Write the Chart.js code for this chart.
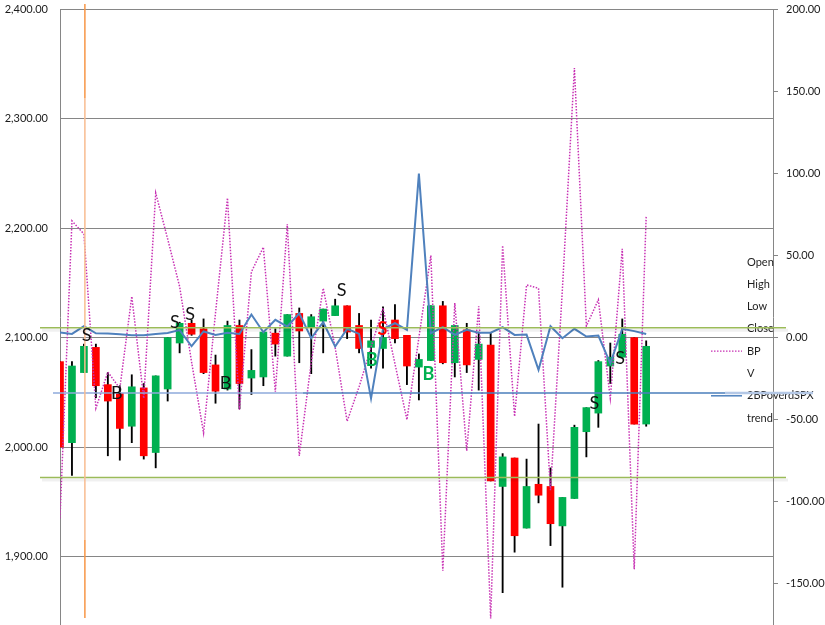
<!DOCTYPE html>
<html><head><meta charset="utf-8">
<script src="https://cdn.jsdelivr.net/npm/chart.js@4.4.0/dist/chart.umd.min.js"></script>
<style>html,body{margin:0;padding:0;background:#fff;}#wrap{width:825px;height:625px;position:relative;}</style>
</head><body><div id="wrap"><canvas id="c" width="825" height="625"></canvas></div>
<script>
// ---- data ----
const days   = [1,2,3,4,5,6,7,8,9,10,11,12,13,14,15,16,17,18,19,20,21,22,23,24,25,26,27,28,29,30,31,32,33,34,35,36,37,38,39,40,41,42,43,44,45,46,47,48,49,50];
const opens  = [2078,2004,2068,2091,2057,2049,2019,2054,1995,2053,2095,2113,2108,2075,2053,2111,2063,2064,2104,2083,2122,2109,2115,2120,2129,2111,2091,2090,2116,2102,2073,2079,2129,2077,2107,2080,2093,1964,1990,1926,1966,1964,1928,1953,2014,2031,2074,2082,2100,2021];
const highs  = [2078,2078,2094,2094,2068,2056,2066,2058,2065,2100,2114,2116,2117,2084,2115,2116,2089,2105,2108,2121,2127,2121,2126,2135,2129,2122,2116,2128,2130,2102,2085,2129,2133,2111,2113,2105,2104,1994,1990,1989,2021,1981,1954,2020,2036,2079,2095,2117,2100,2097];
const lows   = [2000,1974,2068,2045,1992,1988,2004,1989,1981,2042,2086,2102,2067,2040,2052,2035,2048,2056,2083,2083,2077,2067,2086,2120,2099,2086,2072,2072,2095,2057,2043,2079,2076,2064,2068,2052,1969,1867,1904,1926,1949,1910,1872,1953,1991,2018,2058,2082,2021,2019];
const closes = [2000,2074,2092,2056,2042,2017,2055,1992,2065,2100,2113,2103,2068,2051,2111,2058,2070,2105,2094,2121,2106,2119,2126,2129,2105,2090,2097,2100,2099,2074,2080,2129,2077,2111,2075,2094,1969,1991,1919,1964,1956,1930,1954,2018,2036,2078,2082,2103,2021,2092];
const bp     = [-110,71,63,-43,-21,-31,25,-37,88,60,31,-15,-58,15,85,-44,40,55,-33,69,-72,-15,30,-6,-51,-30,-6,18,-16,-50,0,50,-142,21,-69,19,-171,56,-48,32,30,-93,30,164,7,23,-37,54,-141,74];
const spxRatio = [3,2.2,6.9,2.6,2.4,2,1.4,1.4,2.2,2.8,4.5,-5.3,3.7,1.6,2.9,2.2,14,3.2,10.8,6.7,14.8,-0.4,9.3,-5.5,5.3,2.2,-37,5.3,8.7,4.7,99.8,2.6,6.3,1.6,4.7,2.9,2.9,6.3,1.6,1.8,-19.7,6.9,-0.4,5.3,0.6,1.2,-15.7,5.3,3.9,2.2];
const leftTicksStep = 100, rightTicksStep = 50;
const legendNames = ['Open','High','Low','Close','BP','V','2BPoverdSPX','trend'];
// drawn trend / level lines (left-axis prices) and marker day
const greenLevels = [2109, 1972.3];
const blueLevel = 2049.3;
const markerDay = 3.08;
// signal annotations
const signalDays   = [3.23, 5.74, 10.6, 11.87, 14.85, 24.55, 27.06, 27.95, 31.8, 45.67, 47.82];
const signalPrices = [2102.1, 2049.0, 2113.7, 2121.3, 2058.5, 2143.2, 2079.2, 2107.3, 2066.4, 2040.5, 2080.8];
const signalText   = ['S','B','S','S','B','S','B','S','B','S','S'];
const signalKind   = ['k','k','k','k','k','k','g','r','g','k','k'];

const FONT = 'Lato';
const fmtLeft = v => Number(v).toLocaleString('en-US',{minimumFractionDigits:2,maximumFractionDigits:2});
const fmtRight = v => Number(v).toFixed(2);

const bodyColors = opens.map((o,i)=> closes[i] >= o ? '#00B050' : '#FF0000');

const overlay = {
  id:'overlay',
  afterDatasetsDraw(chart){
    const {ctx, chartArea:a, scales} = chart;
    const xs = scales.x, ys = scales.y;
    ctx.save();
    // legend
    ctx.font = '11px ' + FONT;
    ctx.fillStyle = '#1f1f1f';
    ctx.textBaseline = 'middle';
    ctx.textAlign = 'left';
    const lx = a.right - 26, ly0 = a.top + 253, step = 22.3;
    legendNames.forEach((n,i)=>{
      const yy = ly0 + i*step;
      ctx.fillText(n, lx, yy);
      if (n === 'BP') {
        ctx.save(); ctx.strokeStyle='#C832B4'; ctx.lineWidth=1.3; ctx.setLineDash([1.5,1.5]);
        ctx.beginPath(); ctx.moveTo(a.right-62, yy); ctx.lineTo(a.right-31, yy); ctx.stroke(); ctx.restore();
      }
      if (n === '2BPoverdSPX') {
        ctx.save(); ctx.strokeStyle='#4F81BD'; ctx.lineWidth=1.5;
        ctx.beginPath(); ctx.moveTo(a.right-62, yy); ctx.lineTo(a.right-31, yy); ctx.stroke(); ctx.restore();
      }
    });
    // green level lines with shadow
    greenLevels.forEach(p=>{
      const y = ys.getPixelForValue(p);
      ctx.strokeStyle='rgba(0,0,0,0.06)'; ctx.lineWidth=3;
      ctx.beginPath(); ctx.moveTo(a.left-18, y+2.5); ctx.lineTo(a.right+15, y+2.5); ctx.stroke();
      ctx.strokeStyle='#9BBB59'; ctx.lineWidth=1.5;
      ctx.beginPath(); ctx.moveTo(a.left-20, y); ctx.lineTo(a.right+13, y); ctx.stroke();
    });
    // blue level line
    {
      const y = ys.getPixelForValue(blueLevel);
      ctx.lineWidth=1.5;
      ctx.strokeStyle='#8EAADB';
      ctx.beginPath(); ctx.moveTo(a.left-7, y); ctx.lineTo(xs.getPixelForValue(21.3), y); ctx.stroke();
      ctx.strokeStyle='#4A7EBB';
      ctx.beginPath(); ctx.moveTo(xs.getPixelForValue(21.3), y); ctx.lineTo(a.right-48, y); ctx.stroke();
      ctx.strokeStyle='#B4C8E6'; ctx.lineWidth=2.5;
      ctx.beginPath(); ctx.moveTo(a.right-48, y); ctx.lineTo(a.right+40, y); ctx.stroke();
    }
    // orange vertical marker
    {
      const x = xs.getPixelForValue(markerDay);
      ctx.lineWidth=1.5;
      ctx.strokeStyle='#F79646';
      ctx.beginPath(); ctx.moveTo(x, a.top-5); ctx.lineTo(x, a.top+89); ctx.stroke();
      ctx.strokeStyle='#F8BC90';
      ctx.beginPath(); ctx.moveTo(x, a.top+89); ctx.lineTo(x, a.top+531); ctx.stroke();
      ctx.strokeStyle='#F79646';
      ctx.beginPath(); ctx.moveTo(x, a.top+531); ctx.lineTo(x, a.bottom-7); ctx.stroke();
    }
    // signal letters
    ctx.textAlign='center'; ctx.textBaseline='middle';
    signalDays.forEach((d,i)=>{
      const x = xs.getPixelForValue(d), y = ys.getPixelForValue(signalPrices[i]);
      const k = signalKind[i];
      if (k === 'k') { ctx.font = '18px ' + FONT; ctx.fillStyle = '#111'; }
      else { ctx.font = 'bold 18px ' + FONT; ctx.fillStyle = k === 'r' ? '#FF0000' : '#00B050'; }
      ctx.fillText(signalText[i], x, y);
    });
    ctx.restore();
  }
};

new Chart(document.getElementById('c'), {
  type:'bar',
  data:{
    labels: days,
    datasets:[
      {type:'line', label:'2BPoverdSPX', data: spxRatio, yAxisID:'y1', borderColor:'#4F81BD', borderWidth:2, pointRadius:0, tension:0, order:0},
      {type:'line', label:'BP', data: bp, yAxisID:'y1', borderColor:'#C832B4', borderDash:[1.5,1.5], borderWidth:1.5, pointRadius:0, tension:0, order:1},
      {type:'bar', label:'Body', data: opens.map((o,i)=>[o, closes[i]]), yAxisID:'y', backgroundColor: bodyColors, borderWidth:0, barThickness:7, grouped:false, order:2},
      {type:'bar', label:'Wick', data: lows.map((l,i)=>[l, highs[i]]), yAxisID:'y', backgroundColor:'#000', borderWidth:0, barThickness:1.2, grouped:false, order:3}
    ]
  },
  options:{
    responsive:false, animation:false, devicePixelRatio:1,
    layout:{padding:{top:9,bottom:0,left:0,right:0}},
    plugins:{legend:{display:false}, tooltip:{enabled:false}},
    scales:{
      x:{type:'linear', min:1, max:60.6, display:false, offset:false, grid:{display:false}},
      y:{type:'linear', position:'left', min:1837.5, max:2400,
         ticks:{stepSize:leftTicksStep, includeBounds:false, padding:12, color:'#1a1a1a', font:{family:FONT,size:11}, callback:v=>fmtLeft(v)},
         grid:{color:'#868686', drawTicks:false, lineWidth:1},
         border:{color:'#868686', width:1},
         afterFit:s=>{s.width=60; s.paddingTop=0; s.paddingBottom=0;}},
      y1:{type:'linear', position:'right', min:-175, max:200,
         ticks:{stepSize:rightTicksStep, includeBounds:false, padding:8, color:'#1a1a1a', font:{family:FONT,size:11}, callback:v=>fmtRight(v)},
         grid:{drawOnChartArea:false, color:'#868686', tickLength:5},
         border:{color:'#868686', width:1},
         afterFit:s=>{s.width=52; s.paddingTop=0; s.paddingBottom=0;}}
    }
  },
  plugins:[overlay]
});
</script></body></html>
